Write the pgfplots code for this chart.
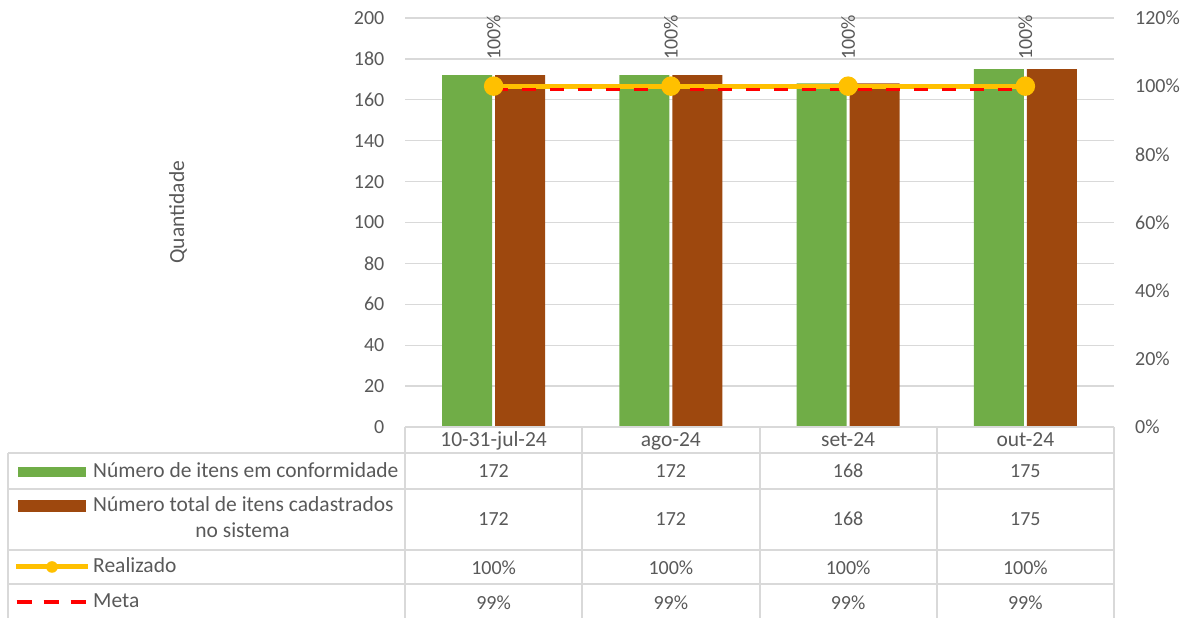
\documentclass[border=0pt]{standalone}
\usepackage{fontspec}
\setmainfont{Carlito}
\usepackage{pgfplots}
\usepackage{pgfplotstable}
\pgfplotsset{compat=1.18}

\definecolor{txt}{HTML}{595959}
\definecolor{gridc}{HTML}{D9D9D9}
\definecolor{verde}{HTML}{70AD47}
\definecolor{marrom}{HTML}{9E480E}
\definecolor{ouro}{HTML}{FFC000}
\definecolor{vermelho}{HTML}{FF0000}

% mes, conformes, total, realizado (%), meta (%)
\pgfplotstableread{
x conf total real meta
1 172 172 100 99
2 172 172 100 99
3 168 168 100 99
4 175 175 100 99
}\dados

\newcommand{\fs}{\fontsize{20bp}{24bp}\selectfont}
\newcommand{\ft}{\fontsize{21.5bp}{25bp}\selectfont}

\begin{document}
\begin{tikzpicture}[x=1bp, y=1bp, font=\ft, text=txt]
\useasboundingbox (0,0) rectangle (1192,618);
\coordinate (o) at (405,191);

\pgfplotsset{
  base/.style={
    at={(o)}, anchor=south west,
    scale only axis, width=709bp, height=409bp,
    xmin=0.5, xmax=4.5,
    axis line style={draw=none},
    major tick length=0pt,
    tick label style={font=\fs, text=txt},
    /pgf/number format/assume math mode=true,
    clip=false,
  },
  linha/.style={draw=none, mark=none, nodes near coords,
    every node near coord/.append style={anchor=base, inner sep=0pt, font=\fs, text=txt}},
}

\begin{axis}[base,
  ymin=0, ymax=200, ytick={0,20,...,200},
  ymajorgrids, grid style={gridc, line width=1.3bp},
  yticklabel style={anchor=east, inner sep=0pt, xshift=-20.5bp},
  xtick={1,2,3,4},
  xticklabels={10-31-jul-24, ago-24, set-24, out-24},
  xticklabel style={anchor=base, inner sep=0pt, yshift=-19.5bp, font=\ft},
  ylabel={Quantidade},
  every axis y label/.style={at={(axis description cs:-0.320,0.525)}, rotate=90, anchor=center, font=\ft, text=txt},
]
\addplot[ybar, bar width=50bp, bar shift=-26.5bp, fill=verde, draw=none] table[x=x, y=conf] {\dados};
\addplot[ybar, bar width=50bp, bar shift=26.5bp, fill=marrom, draw=none] table[x=x, y=total] {\dados};
% linhas da tabela de dados
\addplot[linha, point meta=\thisrow{conf}] table[x=x, y expr=-24.94] {\dados};
\addplot[linha, point meta=\thisrow{total}] table[x=x, y expr=-48.41] {\dados};
\end{axis}

\begin{axis}[base,
  ymin=0, ymax=120, ytick={0,20,...,120},
  axis y line*=right, hide x axis,
  yticklabel={\pgfmathprintnumber{\tick}\%},
  yticklabel style={anchor=west, inner sep=0pt, xshift=21bp},
]
\addplot[ouro, line width=5bp, mark=*, mark size=7.2bp, mark options={fill=ouro, draw=none},
  nodes near coords={\pgfmathprintnumber{\pgfplotspointmeta}\%},
  point meta=\thisrow{real},
  every node near coord/.append style={rotate=90, anchor=west, inner xsep=24bp, inner ysep=0pt, font=\fs, text=txt}]
  table[x=x, y=real] {\dados};
\addplot[vermelho, line width=3.5bp, dash pattern=on 14bp off 14bp] table[x=x, y=meta] {\dados};
\addplot[linha, point meta=\thisrow{real},
  nodes near coords={\pgfmathprintnumber{\pgfplotspointmeta}\%}] table[x=x, y expr=-43.28] {\dados};
\addplot[linha, point meta=\thisrow{meta},
  nodes near coords={\pgfmathprintnumber{\pgfplotspointmeta}\%}] table[x=x, y expr=-53.40] {\dados};
\end{axis}

% grade da tabela
\begin{scope}[draw=gridc, line width=1.3bp]
\draw (405,191) -- (1114,191);
\foreach \yy in {453,489,550,584} \draw (8,618-\yy) -- (1114,618-\yy);
\draw (8,165) -- (8,0);
\foreach \xx in {405,582,760,937,1114} \draw (\xx,191) -- (\xx,0);
\end{scope}

% legenda
\fill[verde] (18,141) rectangle (86,151);
\fill[marrom] (18,106) rectangle (86,118);
\draw[ouro, line width=5bp] (16,51) -- (88,51);
\fill[ouro] (52,51) circle (5.8);
\draw[vermelho, line width=3.5bp, dash pattern=on 15bp off 12bp] (16.5,16) -- (88,16);
\node[anchor=base west, inner sep=0pt] at (93,140) {Número de itens em conformidade};
\node[anchor=base west, inner sep=0pt] at (93,106) {Número total de itens cadastrados};
\node[anchor=base, inner sep=0pt] at (242.5,80) {no sistema};
\node[anchor=base west, inner sep=0pt] at (93,45) {Realizado};
\node[anchor=base west, inner sep=0pt] at (93,10) {Meta};
\end{tikzpicture}
\end{document}
